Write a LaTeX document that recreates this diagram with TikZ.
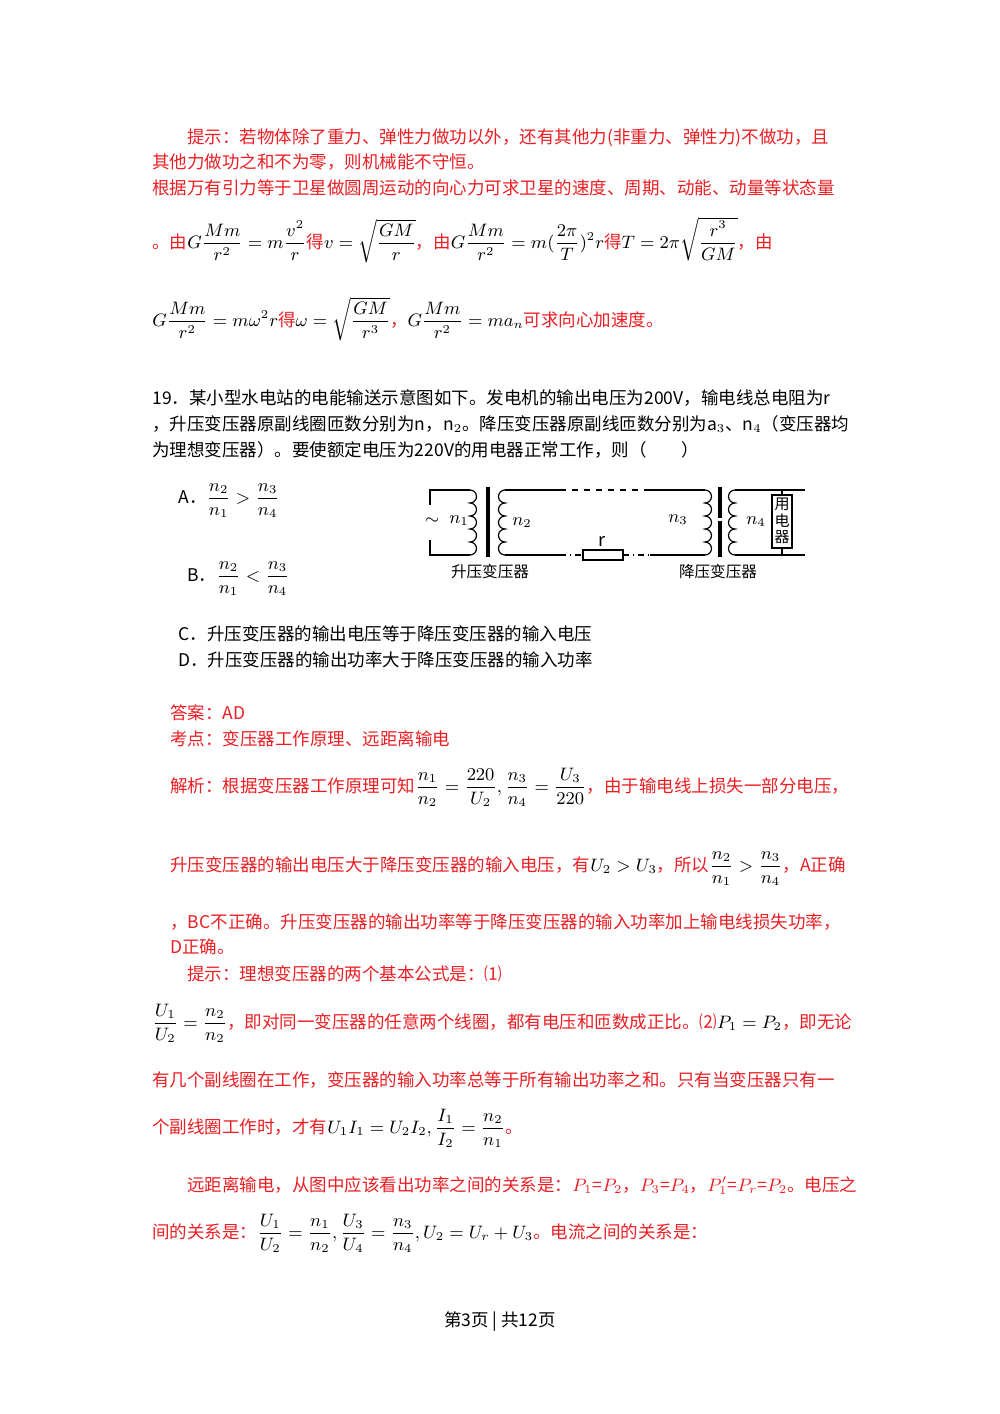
\documentclass[tikz,border=0pt]{standalone}
\usepackage{amsmath}
\usepackage{fontspec}
\setmainfont{Noto Sans CJK SC}
\usepackage{xcolor}
\definecolor{rd}{RGB}{235,30,35}
\begin{document}
\begin{tikzpicture}[x=0.5pt,y=-0.5pt,
  txt/.style={anchor=base west,inner sep=0,text=rd,font=\fontsize{8.75}{10}\selectfont},
  blk/.style={txt,text=black},
  lbl/.style={anchor=center,inner sep=0,font=\fontsize{9}{9}\selectfont}]
\useasboundingbox[fill=white] (0,0) rectangle (1000,1414);
\newcommand{\K}[1]{\textcolor{black}{#1}}
\node[txt] (l1) at (187,143) {提示：若物体除了重力、弹性力做功以外，还有其他力(非重力、弹性力)不做功，且};
\node[txt] (l2) at (152,168) {其他力做功之和不为零，则机械能不守恒。};
\node[txt] (l3) at (152,194) {根据万有引力等于卫星做圆周运动的向心力可求卫星的速度、周期、动能、动量等状态量};
\node[txt] (l4) at (152,248) {。由\K{$G\dfrac{Mm}{r^2}=m\dfrac{v^2}{r}$}得\K{$v=\sqrt{\dfrac{GM}{r}}$}，由\K{$G\dfrac{Mm}{r^2}=m(\dfrac{2\pi}{T})^2r$}得\K{$T=2\pi\sqrt{\dfrac{r^3}{GM}}$}，由};
\node[txt] (l5) at (152,326) {\K{$G\dfrac{Mm}{r^2}=m\omega^2r$}得\K{$\omega=\sqrt{\dfrac{GM}{r^3}}$}，\K{$G\dfrac{Mm}{r^2}=ma_n$}可求向心加速度。};
\node[blk] (q1) at (152,404) {19．某小型水电站的电能输送示意图如下。发电机的输出电压为200V，输电线总电阻为r};
\node[blk] (q2) at (152,430) {，升压变压器原副线圈匝数分别为n，n$_2$。降压变压器原副线匝数分别为a$_3$、n$_4$（变压器均};
\node[blk] (q3) at (152,456) {为理想变压器）。要使额定电压为220V的用电器正常工作，则（　　）};
\node[blk] (oa) at (178,503) {A．$\dfrac{n_2}{n_1}>\dfrac{n_3}{n_4}$};
\node[blk] (ob) at (187,581) {B．$\dfrac{n_2}{n_1}<\dfrac{n_3}{n_4}$};
\node[blk] (oc) at (178,640) {C．升压变压器的输出电压等于降压变压器的输入电压};
\node[blk] (od) at (178,666) {D．升压变压器的输出功率大于降压变压器的输入功率};
\node[txt] (a1) at (170,719) {答案：AD};
\node[txt] (a2) at (170,745) {考点：变压器工作原理、远距离输电};
\node[txt] (a3) at (170,792) {解析：根据变压器工作原理可知\K{$\dfrac{n_1}{n_2}=\dfrac{220}{U_2},\dfrac{n_3}{n_4}=\dfrac{U_3}{220}$}，由于输电线上损失一部分电压，};
\node[txt] (a4) at (170,871) {升压变压器的输出电压大于降压变压器的输入电压，有\K{$U_2>U_3$}，所以\K{$\dfrac{n_2}{n_1}>\dfrac{n_3}{n_4}$}，A正确};
\node[txt] (a5) at (170,928) {，BC不正确。升压变压器的输出功率等于降压变压器的输入功率加上输电线损失功率，};
\node[txt] (a6) at (170,953) {D正确。};
\node[txt] (a7) at (187,980) {提示：理想变压器的两个基本公式是：⑴};
\node[txt] (a8) at (152,1028) {\K{$\dfrac{U_1}{U_2}=\dfrac{n_2}{n_2}$}，即对同一变压器的任意两个线圈，都有电压和匝数成正比。⑵\K{$P_1=P_2$}，即无论};
\node[txt] (a9) at (152,1086) {有几个副线圈在工作，变压器的输入功率总等于所有输出功率之和。只有当变压器只有一};
\node[txt] (a10) at (152,1133) {个副线圈工作时，才有\K{$U_1I_1=U_2I_2,\dfrac{I_1}{I_2}=\dfrac{n_2}{n_1}$}。};
\node[txt] (a11) at (187,1191) {远距离输电，从图中应该看出功率之间的关系是：$P_1$=$P_2$，$P_3$=$P_4$，$P_1'$=$P_r$=$P_2$。电压之};
\node[txt] (a12) at (152,1238) {间的关系是：\K{$\dfrac{U_1}{U_2}=\dfrac{n_1}{n_2},\dfrac{U_3}{U_4}=\dfrac{n_3}{n_4},U_2=U_r+U_3$}。电流之间的关系是：};
\node[blk,anchor=base] (ft) at (500,1326) {第3页 | 共12页};
% circuit
\begin{scope}[line width=0.6pt]
\draw (430,505) -- (430,490) -- (470,490);
\draw (430,540) -- (430,555) -- (470,555);
\draw (470,490) foreach \i in {1,...,5} {arc[start angle=90,end angle=-90,radius=3.25pt]};
\draw[line width=2pt] (488,487) -- (488,557);
\draw (505,490) foreach \i in {1,...,5} {arc[start angle=90,end angle=270,radius=3.25pt]};
\draw (505,490) -- (560,490);
\draw[dashed] (560,490) -- (650,490);
\draw (650,490) -- (705,490);
\draw (505,555) -- (560,555);
\draw[dash dot] (560,555) -- (583,555);
\draw (583,550) rectangle (623,560);
\draw[dash dot] (623,555) -- (650,555);
\draw (650,555) -- (705,555);
\draw (705,490) foreach \i in {1,...,5} {arc[start angle=90,end angle=-90,radius=3.25pt]};
\draw[line width=2pt] (720,487) -- (720,518) (720,521) -- (720,557);
\draw (735,490) foreach \i in {1,...,5} {arc[start angle=90,end angle=270,radius=3.25pt]};
\draw (735,490) -- (805,490);
\draw (735,555) -- (805,555);
\draw (782,490) -- (782,495) (782,548) -- (782,555);
\draw (772,495) rectangle (792,548);
\end{scope}
\node[lbl] (til) at (432,521) {$\sim$};
\node[lbl] (n1) at (459,521) {$n_1$};
\node[lbl] (n2) at (522,523) {$n_2$};
\node[lbl] (n3) at (678,520) {$n_3$};
\node[lbl] (n4) at (756,522) {$n_4$};
\node[lbl] (r) at (602,541) {r};
\node[lbl,align=center,font=\fontsize{7.5}{8.2}\selectfont] (ld) at (782,521) {用\\电\\器};
\node[lbl,font=\fontsize{7.8}{8}\selectfont] (s1) at (490,572) {升压变压器};
\node[lbl,font=\fontsize{7.8}{8}\selectfont] (s2) at (718,572) {降压变压器};
\end{tikzpicture}
\end{document}
